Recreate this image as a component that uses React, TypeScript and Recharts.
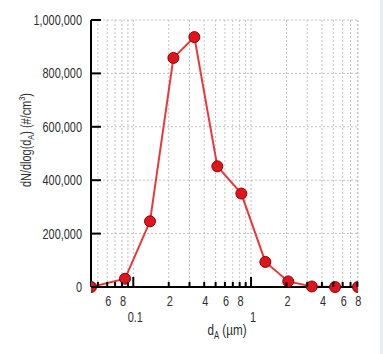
import React from 'react';
import { LineChart, Line, XAxis, YAxis, CartesianGrid } from 'recharts';

const diameters = [0.0437, 0.085, 0.1386, 0.219, 0.33, 0.517, 0.827, 1.323, 2.07, 3.28, 5.17, 8.1];
const concentrations = [0, 31000, 246000, 858000, 936000, 452000, 350000, 94000, 21000, 2000, 0, 0];
const xTicks = [0.05, 0.06, 0.07, 0.08, 0.09, 0.1, 0.2, 0.3, 0.4, 0.5, 0.6, 0.7, 0.8, 0.9, 1, 2, 3, 4, 5, 6, 7, 8];
const yTicks = [0, 200000, 400000, 600000, 800000, 1000000];
const xDomain = [0.0437, 8.1];
const yDomain = [0, 1000000];

const data = diameters.map((d, i) => ({ d, n: concentrations[i] }));

const FONT = '"Liberation Sans", Arial, sans-serif';
const TXT = '#2e2e2e';
const SX = 0.78;

const mantissa = (v: number) => {
  const e = Math.floor(Math.log10(v) + 1e-9);
  return Math.round(v / Math.pow(10, e));
};

const NText = ({ x, y, anchor = 'middle', size = 14, children, dy }: any) => (
  <text
    transform={`translate(${x},${y}) scale(${SX},1)`}
    x={0}
    y={0}
    dy={dy}
    textAnchor={anchor}
    fontSize={size}
    fontFamily={FONT}
    fill={TXT}
  >
    {children}
  </text>
);

const BottomTick = (props: any) => {
  const { x, y, payload } = props;
  const v = payload.value;
  const m = mantissa(v);
  const len = m === 1 ? 10 : 5;
  return (
    <g>
      <line x1={x} x2={x} y1={y} y2={y - len} stroke="#000" strokeWidth={2} />
      {[2, 4, 6, 8].includes(m) && (
        <NText x={x + 1} y={y + 18.5}>{m}</NText>
      )}
      {m === 1 && (
        <NText x={x + 2} y={y + 34.5}>{String(v)}</NText>
      )}
    </g>
  );
};

const TopTick = (props: any) => {
  const { x, y, payload } = props;
  const m = mantissa(payload.value);
  const len = m === 1 ? 10 : 5;
  return <line x1={x} x2={x} y1={y} y2={y + len} stroke="#000" strokeWidth={2} />;
};

const LeftTick = (props: any) => {
  const { x, y, payload } = props;
  return (
    <g>
      <line x1={x} x2={x + 10} y1={y} y2={y} stroke="#000" strokeWidth={2} />
      <NText x={x - 9} y={y} dy="0.36em" anchor="end">
        {payload.value.toLocaleString('en-US')}
      </NText>
    </g>
  );
};

const RightTick = (props: any) => {
  const { x, y } = props;
  return <line x1={x} x2={x - 10} y1={y} y2={y} stroke="#000" strokeWidth={2} />;
};

const YLabel = () => (
  <text
    transform={`translate(31, 140) rotate(-90) scale(${SX},1)`}
    textAnchor="middle"
    fontSize={14}
    fontFamily={FONT}
    fill={TXT}
  >
    dN/dlog(d
    <tspan fontSize={9.5} dy={3}>A</tspan>
    <tspan dy={-3}>)  (#/cm</tspan>
    <tspan fontSize={9.5} dy={-6}>3</tspan>
    <tspan dy={6}>)</tspan>
  </text>
);

const XLabel = () => (
  <text
    transform={`translate(227, 335) scale(${SX},1)`}
    textAnchor="middle"
    fontSize={15}
    fontFamily={FONT}
    fill={TXT}
  >
    d
    <tspan fontSize={10} dy={4}>A</tspan>
    <tspan dy={-4}> (µm)</tspan>
  </text>
);

export default function App() {
  return (
    <div style={{ position: 'absolute', left: 0, top: 0, width: 383, height: 354, background: '#fff' }}>
      <div style={{ position: 'absolute', left: 380, top: 0, width: 3, height: 354, background: '#e8eff1' }} />
      <LineChart width={383} height={354} data={data} margin={{ top: 20, right: 25, bottom: 0, left: 0 }}>
        <CartesianGrid stroke="#c2c2c2" strokeDasharray="2 2" strokeWidth={1} />
        <XAxis
          dataKey="d"
          type="number"
          scale="log"
          domain={xDomain}
          allowDataOverflow
          ticks={xTicks}
          interval={0}
          height={67}
          tickSize={0}
          tickMargin={0}
          tickLine={false}
          axisLine={{ stroke: '#000', strokeWidth: 2 }}
          tick={<BottomTick />}
          label={<XLabel />}
        />
        <XAxis
          xAxisId="top"
          orientation="top"
          dataKey="d"
          type="number"
          scale="log"
          domain={xDomain}
          allowDataOverflow
          ticks={xTicks}
          interval={0}
          height={0}
          tickSize={0}
          tickMargin={0}
          tickLine={false}
          axisLine={{ stroke: '#000', strokeWidth: 2 }}
          tick={<TopTick />}
        />
        <YAxis
          type="number"
          domain={yDomain}
          ticks={yTicks}
          interval={0}
          width={91}
          tickSize={0}
          tickMargin={0}
          tickLine={false}
          axisLine={{ stroke: '#000', strokeWidth: 2 }}
          tick={<LeftTick />}
          label={<YLabel />}
        />
        <YAxis
          yAxisId="right"
          orientation="right"
          type="number"
          domain={yDomain}
          ticks={yTicks}
          interval={0}
          width={0}
          tickSize={0}
          tickMargin={0}
          tickLine={false}
          axisLine={{ stroke: '#000', strokeWidth: 2 }}
          tick={<RightTick />}
        />
        <Line
          dataKey="n"
          type="linear"
          stroke="#e8383a"
          strokeWidth={2}
          dot={{ r: 5.5, fill: '#e3131b', stroke: '#7a0a0a', strokeWidth: 1 }}
          isAnimationActive={false}
        />
      </LineChart>
    </div>
  );
}
